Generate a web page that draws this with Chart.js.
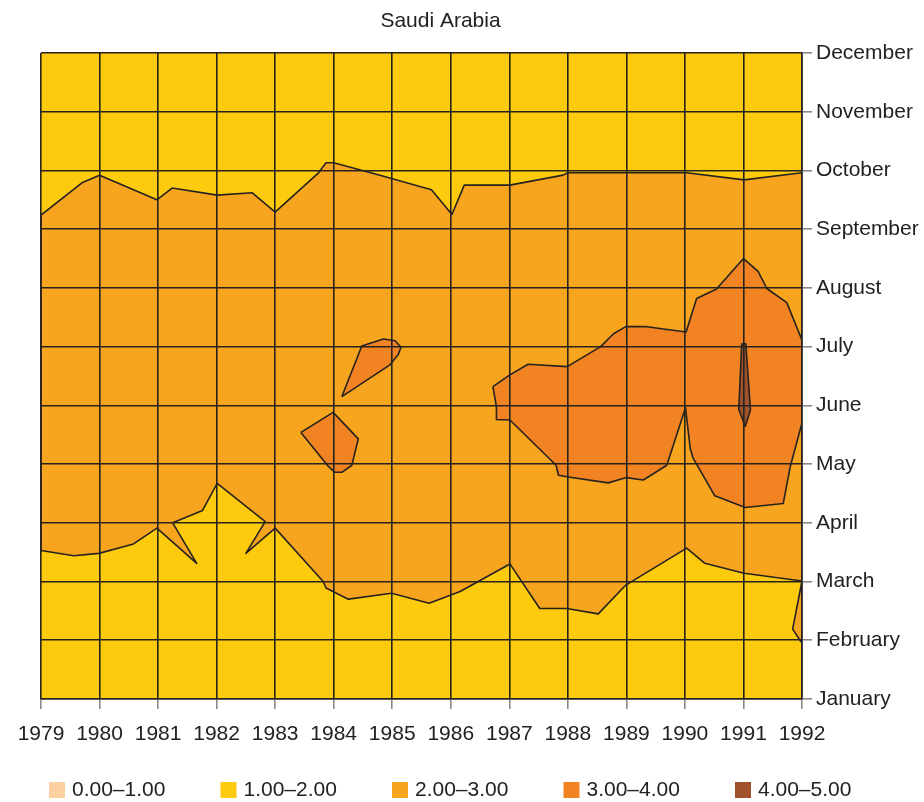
<!DOCTYPE html>
<html>
<head>
<meta charset="utf-8">
<title>Saudi Arabia</title>
<script src="https://cdn.jsdelivr.net/npm/chart.js@4.4.1/dist/chart.umd.min.js"></script>
<style>
  html, body { margin: 0; padding: 0; background: #ffffff; }
  #wrap { width: 924px; height: 802px; }
</style>
</head>
<body>
<div id="wrap"><canvas id="chart" width="924" height="802"></canvas></div>
<script>
// axis values
const chartTitle = "Saudi Arabia";
const yearMin = 1979;
const yearMax = 1992;
const months = ["January", "February", "March", "April", "May", "June",
                "July", "August", "September", "October", "November", "December"];

// legend classes
const levelLabels = ["0.00–1.00", "1.00–2.00", "2.00–3.00", "3.00–4.00", "4.00–5.00"];
const levelColors = ["#fdd0a2", "#fdca0e", "#f7a51f", "#f28323", "#a0522d"];

// contour outlines, [year, month] (month 1 = January ... 12 = December)
// level 1-2 covers the whole field
const band12 = [[1979, 1], [1992, 1], [1992, 12], [1979, 12]];

// level 2-3 band (summer)
const band23 = [
  [1979.00, 9.24], [1979.70, 9.79], [1980.00, 9.92], [1980.98, 9.50], [1981.24, 9.70],
  [1982.01, 9.58], [1982.61, 9.62], [1983.00, 9.29], [1983.74, 9.96], [1983.87, 10.13],
  [1984.00, 10.13], [1984.79, 9.92], [1985.67, 9.67], [1986.02, 9.25], [1986.23, 9.75],
  [1987.01, 9.75], [1987.92, 9.92], [1988.00, 9.96], [1990.03, 9.96], [1991.01, 9.84],
  [1992.00, 9.96], [1992.00, 1.97], [1991.98, 1.98], [1991.84, 2.19], [1992.00, 3.01],
  [1991.01, 3.14], [1990.34, 3.31], [1990.03, 3.57], [1988.99, 2.94], [1988.52, 2.45],
  [1987.98, 2.54], [1987.52, 2.54], [1987.01, 3.30], [1986.16, 2.83], [1985.63, 2.63],
  [1984.99, 2.80], [1984.25, 2.70], [1983.87, 2.89], [1983.82, 3.00], [1983.00, 3.91],
  [1982.50, 3.48], [1982.83, 4.02], [1982.01, 4.67], [1981.76, 4.21], [1981.25, 4.00],
  [1981.66, 3.31], [1980.98, 3.91], [1980.58, 3.64], [1979.99, 3.48], [1979.56, 3.44],
  [1979.00, 3.53]
];

// level 3-4 patches
const band34Main = [
  [1986.72, 6.32], [1987.01, 6.52], [1987.32, 6.70], [1987.99, 6.66], [1988.56, 7.00],
  [1988.78, 7.22], [1988.99, 7.34], [1989.35, 7.34], [1990.02, 7.25], [1990.20, 7.82],
  [1990.54, 7.98], [1991.00, 8.50], [1991.25, 8.28], [1991.40, 7.99], [1991.74, 7.75],
  [1992.00, 7.11], [1992.00, 5.70], [1991.80, 4.96], [1991.68, 4.33], [1991.03, 4.26],
  [1990.51, 4.46], [1990.14, 5.10], [1990.09, 5.27], [1990.01, 5.96], [1989.69, 4.98],
  [1989.29, 4.73], [1989.00, 4.77], [1988.69, 4.68], [1988.01, 4.78], [1987.84, 4.81],
  [1987.80, 4.98], [1987.01, 5.75], [1986.78, 5.76], [1986.78, 5.98]
];
const band34Drop = [
  [1984.14, 6.15], [1984.48, 7.01], [1984.85, 7.13], [1985.05, 7.10], [1985.15, 6.99],
  [1985.10, 6.86], [1984.96, 6.69]
];
const band34Patch = [
  [1983.44, 5.54], [1983.99, 5.88], [1984.42, 5.43], [1984.31, 4.98], [1984.14, 4.86],
  [1984.02, 4.86], [1983.91, 4.96]
];

// level 4-5 sliver in 1991
const band45 = [
  [1990.97, 7.05], [1991.04, 7.05], [1991.12, 5.92], [1991.03, 5.64], [1990.92, 5.93]
];

const lineColor = "#26221e";
const fontFamily = '"Liberation Sans", Arial, sans-serif';

function polygon(points, color, order, outlined) {
  const pts = points.map(([x, y]) => ({ x, y }));
  pts.push({ x: points[0][0], y: points[0][1] });
  return {
    data: pts,
    fill: "shape",
    backgroundColor: color,
    borderColor: outlined ? lineColor : "rgba(0,0,0,0)",
    borderWidth: outlined ? 1.6 : 0,
    borderJoinStyle: "round",
    pointRadius: 0,
    tension: 0,
    order: order
  };
}

// title and legend are placed by hand (the built-in ones centre on the full canvas)
const chartText = {
  id: "chartText",
  afterDraw(chart) {
    const ctx = chart.ctx;
    ctx.save();
    ctx.font = "21px " + fontFamily;
    ctx.textBaseline = "middle";
    ctx.fillStyle = "#222222";
    ctx.textAlign = "center";
    ctx.fillText(chartTitle, 440.5, 21);
    ctx.textAlign = "left";
    levelLabels.forEach((label, i) => {
      const x = 49 + i * 171.5;
      ctx.fillStyle = levelColors[i];
      ctx.fillRect(x, 782, 16, 16);
      ctx.fillStyle = "#222222";
      ctx.fillText(label, x + 23, 790);
    });
    ctx.restore();
  }
};

const tickFont = { family: fontFamily, size: 21 };

new Chart(document.getElementById("chart"), {
  type: "line",
  data: {
    datasets: [
      polygon(band12, levelColors[1], 5, false),
      polygon(band23, levelColors[2], 4, true),
      polygon(band34Main, levelColors[3], 3, true),
      polygon(band34Drop, levelColors[3], 3, true),
      polygon(band34Patch, levelColors[3], 3, true),
      polygon(band45, levelColors[4], 2, true)
    ]
  },
  options: {
    responsive: false,
    animation: false,
    events: [],
    layout: { padding: { left: 0, right: 0, top: 53, bottom: 0 } },
    plugins: {
      legend: { display: false },
      tooltip: { enabled: false },
      title: { display: false }
    },
    scales: {
      x: {
        type: "linear",
        min: yearMin,
        max: yearMax,
        afterFit: (s) => { s.height = 103; s.paddingLeft = 41; },
        ticks: {
          stepSize: 1,
          autoSkip: false,
          maxRotation: 0,
          padding: 13,
          color: "#222222",
          font: tickFont,
          callback: (v) => String(v)
        },
        grid: { color: lineColor, lineWidth: 1.6, tickColor: "#8a8a8a", tickLength: 10, z: 1 },
        border: { color: lineColor, width: 1.6, z: 1 }
      },
      y: {
        type: "linear",
        position: "right",
        min: 1,
        max: 12,
        afterFit: (s) => { s.width = 122; },
        ticks: {
          stepSize: 1,
          autoSkip: false,
          padding: 4,
          color: "#222222",
          font: tickFont,
          callback: (v) => months[v - 1]
        },
        grid: { color: lineColor, lineWidth: 1.6, tickColor: "#8a8a8a", tickLength: 10, z: 1 },
        border: { color: lineColor, width: 1.6, z: 1 }
      }
    }
  },
  plugins: [chartText]
});
</script>
</body>
</html>
